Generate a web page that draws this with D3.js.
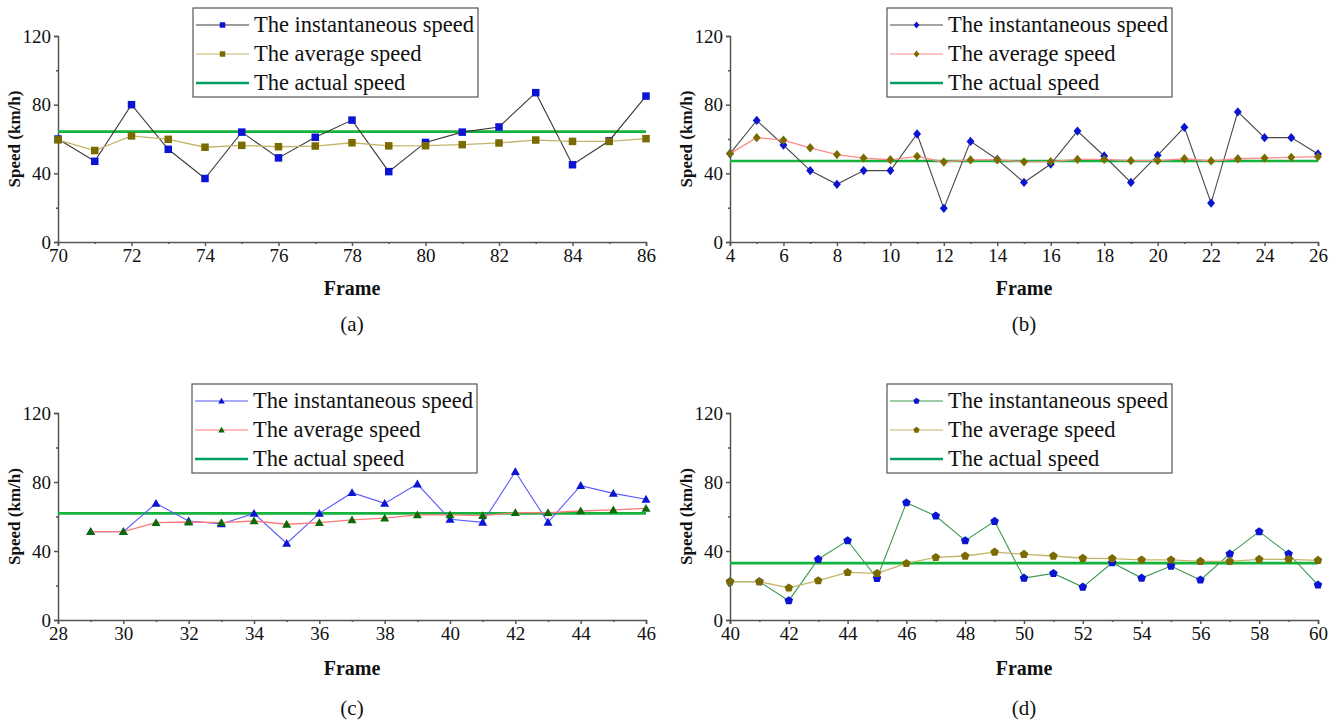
<!DOCTYPE html>
<html>
<head>
<meta charset="utf-8">
<script src="https://cdn.jsdelivr.net/npm/d3@7"></script>
<style>
  html, body { margin: 0; padding: 0; background: #ffffff; }
</style>
</head>
<body>
<svg id="chart" width="1340" height="723"></svg>
<script>
// ---- data: speed estimates per frame (km/h) ----
const framesA  = [70,71,72,73,74,75,76,77,78,79,80,81,82,83,84,85,86];
const instantA = [60,47,80,54,37,64,49,61,71,41,58,64,67,87,45,59,85];
const averageA = [59.5,53.3,61.8,59.8,55.2,56.3,55.5,55.9,57.8,56,56.1,56.7,57.7,59.4,58.6,58.6,60.2];
const actualA  = 64.3;

const framesB  = [4,5,6,7,8,9,10,11,12,13,14,15,16,17,18,19,20,21,22,23,24,25,26];
const instantB = [51.5,70.8,56.5,41.6,33.6,41.6,41.6,62.9,19.6,58.6,48.1,34.7,45.4,64.6,50.1,34.7,50.5,66.8,22.7,75.8,60.8,60.8,51.3];
const averageB = [51.5,60.8,59.4,54.9,50.9,48.9,47.9,49.9,46.6,47.8,47.9,46.7,46.8,48.1,48.1,47.4,47.4,48.5,47.2,48.5,48.9,49.3,49.7];
const actualB  = 47.2;

const framesC  = [29,30,31,32,33,34,35,36,37,38,39,40,41,42,43,44,45,46];
const instantC = [51.2,51.2,67.6,57.4,55.7,61.8,44.4,61.8,73.8,67.6,78.8,58.4,56.6,86,56.6,77.9,73.4,70];
const averageC = [51.2,51.2,56.4,56.8,56.4,57.4,55.5,56.4,58,59,60.9,60.9,60.5,62.2,62.2,63.2,63.8,64.7];
const actualC  = 61.8;

const framesD  = [40,41,42,43,44,45,46,47,48,49,50,51,52,53,54,55,56,57,58,59,60];
const instantD = [22.2,22.2,11.2,35.2,46,24.2,68,60.3,46,57.2,24.3,27,19.1,33.2,24.3,31.3,23.2,38.3,51.2,38.3,20.3];
const averageD = [22.2,22.2,18.6,22.8,27.6,27,32.8,36.3,37.1,39.4,38.1,37.1,35.8,35.6,34.8,34.8,34,34,35.2,35.2,34.6];
const actualD  = 33;

const yTicks = [0, 40, 80, 120];
const legendLabels = ["The instantaneous speed", "The average speed", "The actual speed"];
const panelCaptions = ["(a)", "(b)", "(c)", "(d)"];

// ---- panel layout and styling ----
const panels = [
  { frames: framesA, inst: instantA, avg: averageA, actual: actualA, domain: [70, 86],
    left: 58, right: 646, top: 36, bottom: 242, symbol: "square", titleGap: 53, captionGap: 89,
    instLine: "#3a3a3a", instMark: "#0a14d2", avgLine: "#c4b46a", avgMark: "#7a6a00",
    legend: { x: 193, y: 8 } },
  { frames: framesB, inst: instantB, avg: averageB, actual: actualB, domain: [4, 26],
    left: 730, right: 1318, top: 36, bottom: 242, symbol: "diamond", titleGap: 53, captionGap: 89,
    instLine: "#4a4a4a", instMark: "#0a14d2", avgLine: "#ff8a8a", avgMark: "#7a6a00",
    legend: { x: 887, y: 8 } },
  { frames: framesC, inst: instantC, avg: averageC, actual: actualC, domain: [28, 46],
    left: 58, right: 646, top: 413, bottom: 620, symbol: "triangle", titleGap: 55, captionGap: 95,
    instLine: "#5a5aff", instMark: "#0a14d2", avgLine: "#ff7a7a", avgMark: "#0a6a0a",
    legend: { x: 192, y: 384 } },
  { frames: framesD, inst: instantD, avg: averageD, actual: actualD, domain: [40, 60],
    left: 730, right: 1318, top: 413, bottom: 620, symbol: "pentagon", titleGap: 55, captionGap: 95,
    instLine: "#3c9a50", instMark: "#0a14d2", avgLine: "#c4b46a", avgMark: "#7a6a00",
    legend: { x: 887, y: 384 } }
];

const serif = '"Liberation Serif"';
const actualColor = "#14b43c";
const legendActualColor = "#00a060";
const axisColor = "#555";

const svg = d3.select("#chart");

function markerPath(kind, size) {
  if (kind === "square") {
    const h = size / 2;
    return `M${-h},${-h}H${h}V${h}H${-h}Z`;
  }
  if (kind === "diamond") {
    const h = size * 0.62;
    return `M0,${-h}L${h * 0.85},0L0,${h}L${-h * 0.85},0Z`;
  }
  if (kind === "triangle") {
    const h = size * 0.6;
    return `M0,${-h}L${h},${h * 0.75}L${-h},${h * 0.75}Z`;
  }
  // pentagon
  const r = size * 0.6;
  const pts = d3.range(5).map(i => {
    const a = -Math.PI / 2 + i * 2 * Math.PI / 5;
    return [r * Math.cos(a), r * Math.sin(a)];
  });
  return "M" + pts.map(p => p.join(",")).join("L") + "Z";
}

panels.forEach((p, idx) => {
  const x = d3.scaleLinear().domain(p.domain).range([p.left, p.right]);
  const y = d3.scaleLinear().domain([0, 120]).range([p.bottom, p.top]);
  const g = svg.append("g");

  // axes: major ticks every 40 km/h / 2 frames, minor ticks in between
  const xMinor = d3.range(p.domain[0] + 1, p.domain[1], 2);
  const yMinor = [20, 60, 100];

  g.append("g").attr("transform", `translate(0,${p.bottom})`)
    .call(d3.axisBottom(x).tickValues(d3.range(p.domain[0], p.domain[1] + 1, 2))
      .tickFormat(d3.format("d")).tickSizeOuter(0).tickSize(4).tickPadding(3));
  g.append("g").attr("transform", `translate(0,${p.bottom})`)
    .call(d3.axisBottom(x).tickValues(xMinor).tickFormat("").tickSizeOuter(0).tickSize(2))
    .call(a => a.select(".domain").remove());

  g.append("g").attr("transform", `translate(${p.left},0)`)
    .call(d3.axisLeft(y).tickValues(yTicks).tickFormat(d3.format("d"))
      .tickSizeOuter(0).tickSize(4).tickPadding(3));
  g.append("g").attr("transform", `translate(${p.left},0)`)
    .call(d3.axisLeft(y).tickValues(yMinor).tickFormat("").tickSizeOuter(0).tickSize(2))
    .call(a => a.select(".domain").remove());

  g.selectAll(".domain, .tick line").attr("stroke", axisColor).attr("stroke-width", 1.5);
  g.selectAll(".tick text").attr("font-size", 19).attr("fill", "#111");

  // axis titles
  g.append("text")
    .attr("x", (p.left + p.right) / 2).attr("y", p.bottom + p.titleGap)
    .attr("text-anchor", "middle").attr("font-size", 20).attr("font-weight", "bold")
    .text("Frame");
  g.append("text")
    .attr("transform", `translate(${p.left - 38},${(p.top + p.bottom) / 2}) rotate(-90)`)
    .attr("text-anchor", "middle").attr("font-size", 17).attr("font-weight", "bold")
    .text("Speed (km/h)");
  g.append("text")
    .attr("x", (p.left + p.right) / 2).attr("y", p.bottom + p.captionGap)
    .attr("text-anchor", "middle").attr("font-size", 21)
    .text(panelCaptions[idx]);

  // reference line: actual speed
  g.append("line")
    .attr("x1", x(p.domain[0])).attr("x2", x(p.domain[1]))
    .attr("y1", y(p.actual)).attr("y2", y(p.actual))
    .attr("stroke", actualColor).attr("stroke-width", 2.6);

  const line = d3.line().x(d => x(d[0])).y(d => y(d[1]));
  const instPts = p.frames.map((f, i) => [f, p.inst[i]]);
  const avgPts = p.frames.map((f, i) => [f, p.avg[i]]);

  // instantaneous speed series
  g.append("path").datum(instPts).attr("d", line)
    .attr("fill", "none").attr("stroke", p.instLine).attr("stroke-width", 1.1);
  g.selectAll(".inst").data(instPts).enter().append("path")
    .attr("transform", d => `translate(${x(d[0])},${y(d[1])})`)
    .attr("d", markerPath(p.symbol, 7.5)).attr("fill", p.instMark);

  // cumulative average speed series
  g.append("path").datum(avgPts).attr("d", line)
    .attr("fill", "none").attr("stroke", p.avgLine).attr("stroke-width", 1.3);
  g.selectAll(".avg").data(avgPts).enter().append("path")
    .attr("transform", d => `translate(${x(d[0])},${y(d[1])})`)
    .attr("d", markerPath(p.symbol, 7.5)).attr("fill", p.avgMark);

  // legend
  const lg = g.append("g").attr("transform", `translate(${p.legend.x},${p.legend.y})`);
  lg.append("rect").attr("width", 285).attr("height", 89)
    .attr("fill", "#fff").attr("stroke", "#555").attr("stroke-width", 1.2);
  const rows = [
    { color: p.instLine, mark: p.instMark, width: 1.1 },
    { color: p.avgLine, mark: p.avgMark, width: 1.1 },
    { color: legendActualColor, mark: null, width: 2.6 }
  ];
  rows.forEach((r, i) => {
    const ry = 17 + i * 29;
    lg.append("line").attr("x1", 3).attr("x2", 56).attr("y1", ry).attr("y2", ry)
      .attr("stroke", r.color).attr("stroke-width", r.width);
    if (r.mark) {
      lg.append("path").attr("transform", `translate(29.5,${ry})`)
        .attr("d", markerPath(p.symbol, 5.5)).attr("fill", r.mark);
    }
    lg.append("text").attr("x", 61).attr("y", ry + 7)
      .attr("font-size", 22.5).text(legendLabels[i]);
  });

  // every label in the panel uses the serif face
  g.selectAll("text").style("font-family", serif).attr("fill", "#111");
});
</script>
</body>
</html>
